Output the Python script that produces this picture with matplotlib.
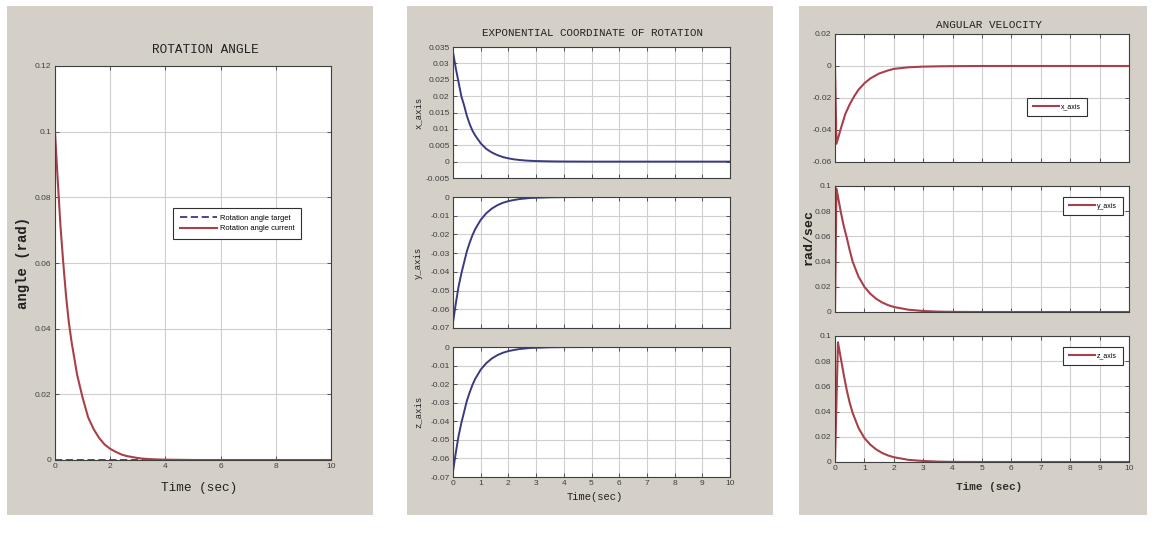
import matplotlib
matplotlib.use("Agg")
import matplotlib.pyplot as plt
from matplotlib.patches import Rectangle

W, H = 1157, 538
# ---------------- data ----------------
t_angle = [0, 0.1, 0.2, 0.3, 0.4, 0.5, 0.6, 0.8, 1.0, 1.2, 1.4, 1.6, 1.8, 2.0, 2.2, 2.4,
           2.6, 2.8, 3.0, 3.2, 3.6, 4.0, 5.0, 6.0, 8.0, 10.0]
angle_current = [0.1, 0.085, 0.071, 0.060, 0.050, 0.042, 0.036, 0.026, 0.019, 0.013, 0.0094,
                 0.0067, 0.0047, 0.0034, 0.0025, 0.0017, 0.0012, 0.0009, 0.0006, 0.0004,
                 0.0002, 0.0001, 0.0, 0.0, 0.0, 0.0]
t_target = [0, 10]
angle_target = [0, 0]

t_exp = [0, 0.1, 0.2, 0.3, 0.4, 0.5, 0.6, 0.7, 0.8, 1.0, 1.2, 1.4, 1.6, 1.8, 2.0, 2.2,
         2.4, 2.6, 2.8, 3.0, 3.5, 4.0, 5.0, 6.0, 8.0, 10.0]
exp_x = [0.0335, 0.0285, 0.0243, 0.020, 0.0172, 0.0140, 0.0115, 0.0095, 0.0080, 0.0056,
         0.0039, 0.0028, 0.0020, 0.0014, 0.0010, 0.0007, 0.0005, 0.00035, 0.00025, 0.00018,
         0.00008, 0.00003, 0.0, 0.0, 0.0, 0.0]
exp_y = [-0.067, -0.057, -0.048, -0.041, -0.035, -0.029, -0.0245, -0.0205, -0.0172, -0.0122,
         -0.0087, -0.0062, -0.0044, -0.0031, -0.0022, -0.0016, -0.0011, -0.0008, -0.0005,
         -0.0004, -0.00015, -0.00006, 0.0, 0.0, 0.0, 0.0]
exp_z = [-0.067, -0.057, -0.048, -0.041, -0.035, -0.029, -0.0245, -0.0205, -0.0172, -0.0122,
         -0.0087, -0.0062, -0.0044, -0.0031, -0.0022, -0.0016, -0.0011, -0.0008, -0.0005,
         -0.0004, -0.00015, -0.00006, 0.0, 0.0, 0.0, 0.0]

t_wx = [0, 0.05, 0.2, 0.35, 0.5, 0.65, 0.8, 1.0, 1.2, 1.5, 1.8, 2.0, 2.5, 3.0, 3.5, 4.0, 5.0, 10.0]
w_x = [0.0, -0.0486, -0.039, -0.030, -0.024, -0.019, -0.0148, -0.0108, -0.0078, -0.0047,
       -0.0028, -0.0018, -0.0008, -0.0004, -0.0002, -0.0001, 0.0, 0.0]
t_wy = [0, 0.05, 0.2, 0.3, 0.4, 0.5, 0.6, 0.8, 1.0, 1.2, 1.4, 1.6, 1.8, 2.0, 2.5, 3.0, 3.5, 4.0, 5.0, 10.0]
w_y = [0.0, 0.098, 0.079, 0.068, 0.059, 0.049, 0.040, 0.028, 0.020, 0.0145, 0.0105, 0.0076,
       0.0055, 0.0040, 0.0018, 0.0008, 0.0003, 0.0001, 0.0, 0.0]
t_wz = [0, 0.1, 0.2, 0.3, 0.4, 0.5, 0.6, 0.8, 1.0, 1.2, 1.4, 1.6, 1.8, 2.0, 2.5, 3.0, 3.5, 4.0, 5.0, 10.0]
w_z = [0.0, 0.095, 0.082, 0.069, 0.057, 0.047, 0.039, 0.027, 0.019, 0.0138, 0.010, 0.0072,
       0.0052, 0.0038, 0.0017, 0.0008, 0.0003, 0.0001, 0.0, 0.0]

# ---------------- styling ----------------
GRAY = "#d4d0c8"
RED = "#a8404a"
BLUE = "#3a3a80"
MONO = "Liberation Mono"
SANS = "Liberation Sans"
TICKFS = 6.0

fig = plt.figure(figsize=(W / 100, H / 100), dpi=100)
fig.patch.set_facecolor("white")


def panel(x0, y0, x1, y1):
    fig.patches.append(Rectangle((x0 / W, 1 - y1 / H), (x1 - x0) / W, (y1 - y0) / H,
                                 transform=fig.transFigure, facecolor=GRAY,
                                 edgecolor="none", zorder=-10))


def ax_at(l, t, r, b):
    ax = fig.add_axes([l / W, 1 - b / H, (r - l) / W, (b - t) / H])
    ax.set_facecolor("white")
    ax.grid(True, color="#cfcfcf", linewidth=0.8, linestyle="-")
    ax.set_axisbelow(True)
    for s in ax.spines.values():
        s.set_color("#404040")
        s.set_linewidth(0.8)
    ax.tick_params(direction="in", length=3, width=0.6, top=True, right=True,
                   labelsize=TICKFS, colors="#404040", pad=2.5)
    return ax


def fmt(v):
    return "%g" % round(v, 4)


def set_ticks(ax, xt, yt, xlabels=True):
    ax.set_xticks(xt)
    ax.set_yticks(yt)
    ax.set_xticklabels([fmt(v) for v in xt] if xlabels else [], fontfamily=SANS,
                       fontsize=TICKFS, color="#404040")
    ax.set_yticklabels([fmt(v) for v in yt], fontfamily=SANS, fontsize=TICKFS, color="#404040")


def legend(ax, anchor, hl, fs, bp=0.6, ls=0.25):
    lg = ax.legend(loc="upper left", bbox_to_anchor=anchor, frameon=True, fancybox=False,
                   handlelength=hl, handletextpad=0.3, borderpad=bp, borderaxespad=0,
                   prop={"family": SANS, "size": fs}, labelspacing=ls)
    fr = lg.get_frame()
    fr.set_edgecolor("#303030")
    fr.set_linewidth(0.8)
    fr.set_alpha(1)
    return lg


# ---------------- panel 1 ----------------
panel(7, 6, 373, 515)
a1 = ax_at(55, 66, 331, 460)
a1.plot(t_target, angle_target, color=BLUE, lw=1.3, ls=(0, (4, 2)), label="Rotation angle target")
a1.plot(t_angle, angle_current, color=RED, lw=1.5, label="Rotation angle current")
a1.set_xlim(0, 10)
a1.set_ylim(0, 0.12)
set_ticks(a1, [0, 2, 4, 6, 8, 10], [0, 0.02, 0.04, 0.06, 0.08, 0.1, 0.12])
legend(a1, (0.428, 0.64), 5.0, 5.4, bp=0.9, ls=0.45)
fig.text(205 / W, 1 - 50 / H, "ROTATION ANGLE", family=MONO, fontsize=9.2,
         ha="center", va="center", color="#202020")
fig.text(199 / W, 1 - 488 / H, "Time (sec)", family=MONO, fontsize=9.2,
         ha="center", va="center", color="#202020")
fig.text(23 / W, 1 - 263 / H, "angle (rad)", family=MONO, fontsize=10, fontweight="bold",
         ha="center", va="center", rotation=90, color="#202020")

# ---------------- panel 2 ----------------
panel(407, 6, 773, 515)
rows2 = [(47, 178), (197, 328), (347, 477)]
series2 = [exp_x, exp_y, exp_z]
ylims2 = [(-0.005, 0.035), (-0.07, 0), (-0.07, 0)]
yticks2 = [[-0.005, 0, 0.005, 0.01, 0.015, 0.02, 0.025, 0.03, 0.035],
           [-0.07, -0.06, -0.05, -0.04, -0.03, -0.02, -0.01, 0],
           [-0.07, -0.06, -0.05, -0.04, -0.03, -0.02, -0.01, 0]]
names2 = ["x_axis", "y_axis", "z_axis"]
for i, (top, bot) in enumerate(rows2):
    ax = ax_at(453, top, 730, bot)
    ax.plot(t_exp, series2[i], color=BLUE, lw=1.4)
    ax.set_xlim(0, 10)
    ax.set_ylim(*ylims2[i])
    set_ticks(ax, list(range(0, 11)), yticks2[i], xlabels=(i == 2))
    fig.text(418 / W, 1 - (top + bot) / 2 / H, names2[i], family=MONO, fontsize=6.4,
             ha="center", va="center", rotation=90, color="#202020")
fig.text(592 / W, 1 - 33 / H, "EXPONENTIAL COORDINATE OF ROTATION", family=MONO,
         fontsize=7.8, ha="center", va="center", color="#202020")
fig.text(595 / W, 1 - 497 / H, "Time(sec)", family=MONO, fontsize=7.6,
         ha="center", va="center", color="#202020")

# ---------------- panel 3 ----------------
panel(799, 6, 1147, 515)
rows3 = [(34, 162), (186, 312), (336, 462)]
series3 = [(t_wx, w_x), (t_wy, w_y), (t_wz, w_z)]
ylims3 = [(-0.06, 0.02), (0, 0.1), (0, 0.1)]
yticks3 = [[-0.06, -0.04, -0.02, 0, 0.02],
           [0, 0.02, 0.04, 0.06, 0.08, 0.1],
           [0, 0.02, 0.04, 0.06, 0.08, 0.1]]
anchors3 = [(0.653, 0.50), (0.776, 0.913), (0.776, 0.913)]
for i, (top, bot) in enumerate(rows3):
    ax = ax_at(835, top, 1129, bot)
    tt, vv = series3[i]
    ax.plot(tt, vv, color=RED, lw=1.5, label=names2[i])
    ax.set_xlim(0, 10)
    ax.set_ylim(*ylims3[i])
    set_ticks(ax, list(range(0, 11)), yticks3[i], xlabels=(i == 2))
    legend(ax, anchors3[i], 3.8, 5.0, bp=0.8)
fig.text(989 / W, 1 - 25 / H, "ANGULAR VELOCITY", family=MONO, fontsize=7.9,
         ha="center", va="center", color="#202020")
fig.text(989 / W, 1 - 487 / H, "Time (sec)", family=MONO, fontsize=8.0, fontweight="bold",
         ha="center", va="center", color="#303030")
fig.text(809 / W, 1 - 237 / H, "rad/sec", family=MONO, fontsize=9.5, fontweight="bold",
         ha="center", va="center", rotation=90, color="#202020")

fig.savefig("out.png", dpi=100, facecolor="white")
